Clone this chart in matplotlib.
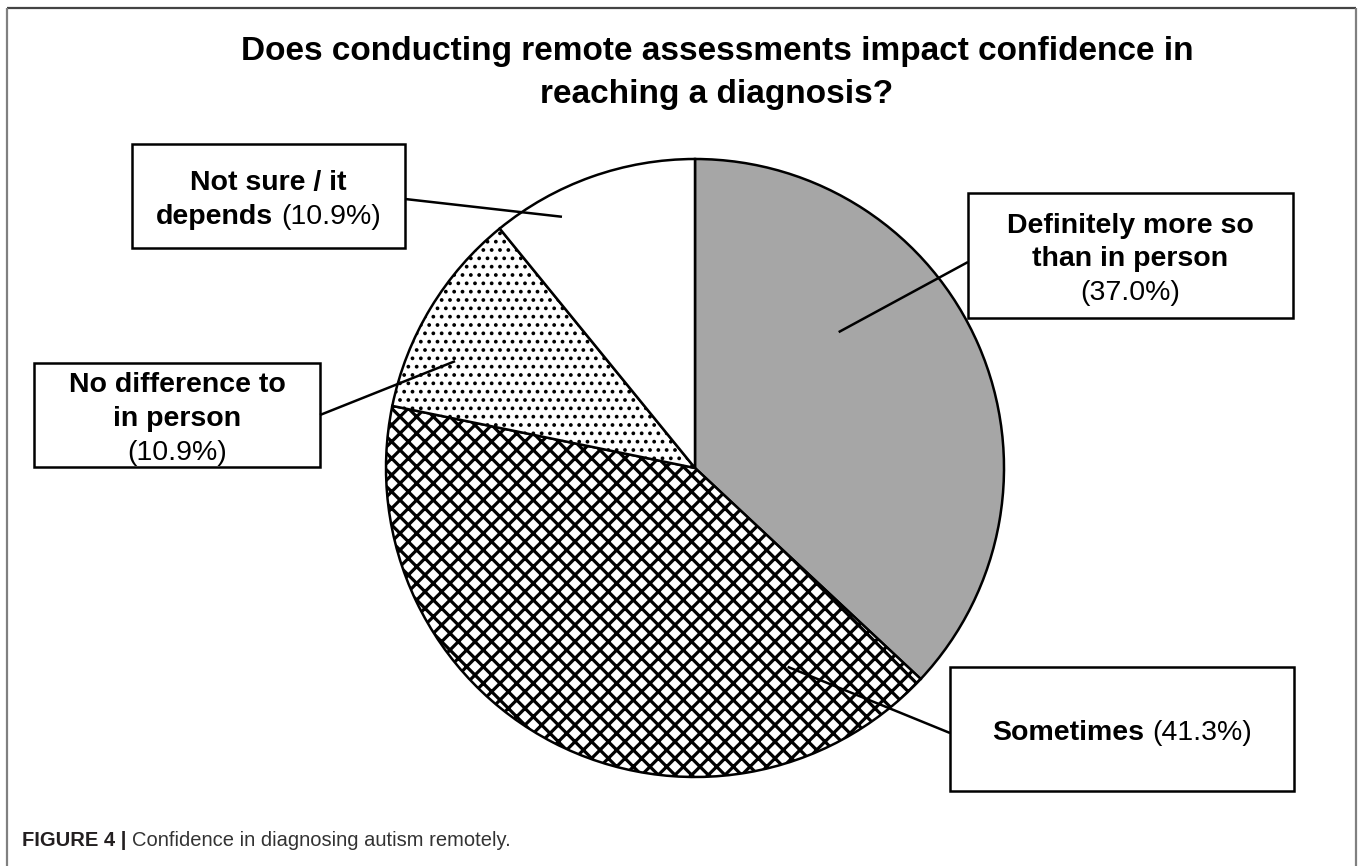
import matplotlib
matplotlib.use("Agg")
import matplotlib.pyplot as plt
from matplotlib.patches import Rectangle
import numpy as np

# ---------------- data ----------------
categories = ["Definitely more so than in person", "Sometimes",
              "No difference to in person", "Not sure / it depends"]
values = [37.0, 41.3, 10.9, 10.9]
value_labels = ["(37.0%)", "(41.3%)", "(10.9%)", "(10.9%)"]
title_text = "Does conducting remote assessments impact confidence in\nreaching a diagnosis?"
caption_bold = "FIGURE 4 |"
caption_rest = "Confidence in diagnosing autism remotely."

# ---------------- style / layout ----------------
W, H = 1358, 866
FONT = "Liberation Sans"
plt.rcParams['font.family'] = [FONT, 'DejaVu Sans']
plt.rcParams['hatch.linewidth'] = 1.5
plt.rcParams['hatch.color'] = '#222222'

fills = ["#a6a6a6", "white", "white", "white"]
hatches = [None, "xx", "..", None]
hatch_lw = [None, 2.3, 1.5, None]

cx, cy, R = 695, 468, 309          # pie centre / radius (pixels, y from top)

# label boxes: (x0, y0, x1, y1) in pixels from top-left; lines of segments
boxes = [
    dict(rect=(968, 193, 1293, 318),
         lines=[[("Definitely more so", "bold")], [("than in person", "bold")],
                [(value_labels[0], "normal")]],
         start=(968, 262), end_polar=(43.4, 0.64)),
    dict(rect=(950, 667, 1294, 791),
         lines=[[("Sometimes", "bold"), (value_labels[1], "normal")]],
         start=(950, 733), end_polar=(-65.0, 0.71)),
    dict(rect=(34, 363, 320, 467),
         lines=[[("No difference to", "bold")], [("in person", "bold")],
                [(value_labels[2], "normal")]],
         start=(320, 415), end_polar=(156.0, 0.85)),
    dict(rect=(132, 144, 405, 248),
         lines=[[("Not sure / it", "bold")],
                [("depends", "bold"), (value_labels[3], "normal")]],
         start=(405, 199), end_polar=(117.9, 0.92)),
]
LABEL_FS = 20.5
LINE_GAP = 33.5
TEXT_DY = 4

def Y(y):
    return H - y

fig = plt.figure(figsize=(W / 100, H / 100), dpi=100)
ax = fig.add_axes([0, 0, 1, 1])
ax.set_xlim(0, W)
ax.set_ylim(0, H)
ax.axis("off")

# outer frame (open at the bottom)
ax.plot([7, 1356], [Y(8), Y(8)], color="#444444", lw=1.6, solid_capstyle="butt")
ax.plot([7, 7], [Y(8), 0], color="#808080", lw=1.6, solid_capstyle="butt")
ax.plot([1356, 1356], [Y(8), 0], color="#808080", lw=1.6, solid_capstyle="butt")

# title
ax.text(717, Y(73), title_text, ha="center", va="center", fontsize=24,
        fontweight="bold", fontfamily=FONT, linespacing=1.46, color="black")

# pie
wedges, _ = ax.pie(values, colors=fills, startangle=90, counterclock=False,
                   center=(cx, Y(cy)), radius=R, frame=True,
                   wedgeprops=dict(edgecolor="black", linewidth=1.8))
for w, h, hl in zip(wedges, hatches, hatch_lw):
    if h:
        w.set_hatch(h)
        if hasattr(w, "set_hatch_linewidth"):
            w.set_hatch_linewidth(hl)
ax.set_xlim(0, W)
ax.set_ylim(0, H)
ax.axis("off")

fig.canvas.draw()
renderer = fig.canvas.get_renderer()

def text_width(s, weight, fs):
    t = ax.text(0, 0, s, fontsize=fs, fontweight=weight, fontfamily=FONT)
    w = t.get_window_extent(renderer).width
    t.remove()
    return w

def draw_segments(xc, y, segs, fs, color="black"):
    space = text_width("a a", "normal", fs) - text_width("aa", "normal", fs)
    widths = [text_width(s, wt, fs) for s, wt in segs]
    total = sum(widths) + space * (len(segs) - 1)
    x = xc - total / 2
    for (s, wt), wd in zip(segs, widths):
        ax.text(x, y, s, fontsize=fs, fontweight=wt, fontfamily=FONT,
                ha="left", va="center", color=color)
        x += wd + space

for b in boxes:
    x0, y0, x1, y1 = b["rect"]
    ax.add_patch(Rectangle((x0, Y(y1)), x1 - x0, y1 - y0, facecolor="white",
                           edgecolor="black", linewidth=1.8, zorder=3))
    n = len(b["lines"])
    ymid = (y0 + y1) / 2 + TEXT_DY
    for i, segs in enumerate(b["lines"]):
        yy = ymid + (i - (n - 1) / 2) * LINE_GAP
        draw_segments((x0 + x1) / 2, Y(yy), segs, LABEL_FS)
    ang, rf = b["end_polar"]
    ex = cx + R * rf * np.cos(np.radians(ang))
    ey = Y(cy) + R * rf * np.sin(np.radians(ang))
    sx, sy = b["start"]
    ax.plot([sx, ex], [Y(sy), ey], color="black", lw=1.8, zorder=4,
            solid_capstyle="butt")

# caption
space = text_width("a a", "normal", 14.5) - text_width("aa", "normal", 14.5)
xb = 22
wb = text_width(caption_bold, "bold", 14.5)
ax.text(xb, Y(840), caption_bold, fontsize=14.5, fontweight="bold",
        fontfamily=FONT, ha="left", va="center", color="#231f20")
ax.text(xb + wb + space, Y(840), caption_rest, fontsize=14.5,
        fontweight="normal", fontfamily=FONT, ha="left", va="center",
        color="#333333")

fig.savefig("out.png", dpi=100)
